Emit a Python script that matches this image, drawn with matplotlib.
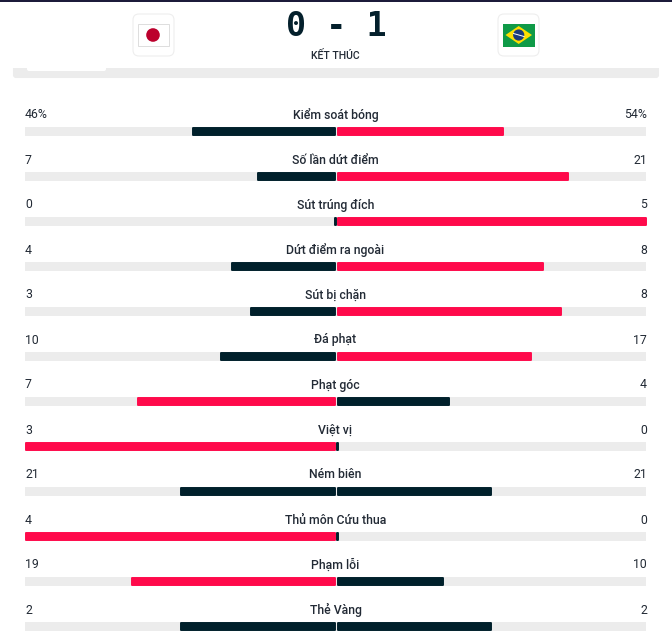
import matplotlib
matplotlib.use("Agg")
import matplotlib.pyplot as plt
from matplotlib.patches import Circle, FancyBboxPatch, Polygon, Rectangle

plt.rcParams["font.family"] = ["Roboto", "DejaVu Sans"]

# data
categories = ["Kiểm soát bóng", "Số lần dứt điểm", "Sút trúng đích", "Dứt điểm ra ngoài",
              "Sút bị chặn", "Đá phạt", "Phạt góc", "Việt vị", "Ném biên",
              "Thủ môn Cứu thua", "Phạm lỗi", "Thẻ Vàng"]
left_values = [46, 7, 0, 4, 3, 10, 7, 3, 21, 4, 19, 2]
right_values = [54, 21, 5, 8, 8, 17, 4, 0, 21, 0, 10, 2]
left_labels = ["46%", "7", "0", "4", "3", "10", "7", "3", "21", "4", "19", "2"]
right_labels = ["54%", "21", "5", "8", "8", "17", "4", "0", "21", "0", "10", "2"]
score = "0 - 1"
status = "KẾT THÚC"

DARK = "#00202b"
RED = "#ff0a4b"
TRACK = "#ececec"
TEXT = "#222a35"

fig = plt.figure(figsize=(6.72, 6.38), dpi=100)
ax = fig.add_axes([0, 0, 1, 1])
ax.set_xlim(0, 672)
ax.set_ylim(638, 0)
ax.axis("off")

# stat rows
for i, cat in enumerate(categories):
    y = 131.5 + 45 * i
    total = left_values[i] + right_values[i]
    lf = left_values[i] / total
    rf = right_values[i] / total
    lc = RED if left_values[i] > right_values[i] else DARK
    rc = RED if right_values[i] > left_values[i] else DARK

    ax.barh(y, 619, left=26, height=7.5, color=TRACK, edgecolor=TRACK, linewidth=1.4)
    for b in ax.barh(y, -(lf * 310 - 1), left=334.5, height=7.5, color=lc, edgecolor=lc, linewidth=1.4):
        b.set_joinstyle("round")
    for b in ax.barh(y, rf * 309 - 1, left=337.5, height=7.5, color=rc, edgecolor=rc, linewidth=1.4):
        b.set_joinstyle("round")

    ax.text(335.5, y - 16.5, cat, ha="center", va="center", fontsize=8.8, fontweight="medium", color=TEXT)
    ax.text(25, y - 16.5, left_labels[i], ha="left", va="center", fontsize=8.8, color=TEXT)
    ax.text(647, y - 16.5, right_labels[i], ha="right", va="center", fontsize=8.8, color=TEXT)

# grey panel behind the sticky header
ax.add_patch(FancyBboxPatch((14, 60), 644, 17, boxstyle="round,pad=0,rounding_size=2",
                            fc=TRACK, ec=TRACK, lw=1.5))
ax.add_patch(FancyBboxPatch((27, 62), 79, 9, boxstyle="round,pad=0,rounding_size=2",
                            fc="white", ec="none"))

# header
ax.add_patch(Rectangle((0, 0), 672, 68, fc="white", ec="none", zorder=3))
ax.add_patch(Rectangle((0, 0), 672, 1.5, fc="#1c1b3a", ec="none", zorder=4))
ax.text(336, 26.5, score, ha="center", va="center", fontsize=24, fontweight="bold",
        color="#04202c", zorder=5, family=["DejaVu Sans Mono"])
ax.text(335.5, 55.5, status, ha="center", va="center", fontsize=7.6, fontweight="medium",
        color=TEXT, zorder=5)

for x0 in (133, 498):
    ax.add_patch(FancyBboxPatch((x0 + 4, 18), 33, 34, boxstyle="round,pad=4,rounding_size=6",
                                fc="white", ec="#eeeeee", lw=0.8, zorder=4))

# Japan flag
ax.add_patch(Rectangle((137.5, 24), 31.5, 22, fc="white", ec="#dddddd", lw=0.7, zorder=5))
ax.add_patch(Circle((153, 35), 6.8, fc="#bc002d", ec="none", zorder=6))

# Brazil flag
ax.add_patch(Rectangle((502.5, 23.5), 32.5, 23, fc="#0f9a47", ec="none", zorder=5))
ax.add_patch(Polygon([(505.5, 35), (518.7, 26), (532, 35), (518.7, 44)], fc="#fedf00", ec="none", zorder=6))
ax.add_patch(Circle((518.7, 35), 5.6, fc="#1b3a7a", ec="none", zorder=7))
ax.plot([513.5, 524], [33.5, 36.5], color="white", lw=0.7, zorder=8)

fig.savefig("out.png", dpi=100, facecolor="white")
